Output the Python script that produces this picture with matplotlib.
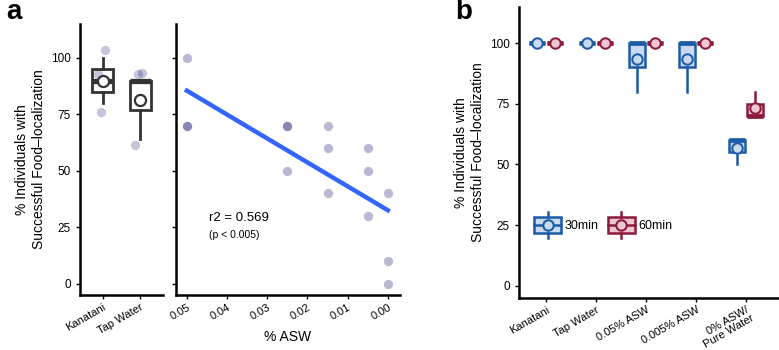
import numpy as np
import matplotlib
matplotlib.use('Agg')
import matplotlib.pyplot as plt
from matplotlib.patches import Rectangle, Patch
from matplotlib.lines import Line2D
from matplotlib.legend_handler import HandlerBase

plt.rcParams['font.family'] = ['Liberation Sans', 'DejaVu Sans']

# ---- panel a, left: replicate values per condition
a_groups = ['Kanatani', 'Tap Water']
a_box_data = [[80, 90, 100], [64, 90, 90]]
# jittered points as they appear on the chart
a_pts_dx = [[0.07, -0.13, -0.05], [-0.07, 0.05, -0.13]]
a_pts_y = [[103.3, 92.8, 75.9], [92.8, 93.3, 61.6]]

# ---- panel a, right: % ASW vs success
asw_x = [0.05, 0.05, 0.05, 0.025, 0.025, 0.025, 0.015, 0.015, 0.015,
         0.005, 0.005, 0.005, 0.0, 0.0, 0.0]
asw_y = [100, 70, 70, 70, 70, 50, 70, 60, 40, 60, 50, 30, 40, 10, 0]
asw_ticks = [0.05, 0.04, 0.03, 0.02, 0.01, 0.00]

# ---- panel b: replicate values per condition and time
b_groups = ['Kanatani', 'Tap Water', '0.05% ASW', '0.005% ASW', '0% ASW/\nPure Water']
b_30min = [[100, 100, 100], [100, 100, 100], [80, 100, 100], [80, 100, 100], [50, 60, 60]]
b_60min = [[100, 100, 100], [100, 100, 100], [100, 100, 100], [100, 100, 100], [70, 70, 80]]

blue = '#1c5ba6'
blue_fill = '#c9daef'
red = '#8b1a3c'
red_fill = '#ecc6d0'
ylab = '% Individuals with\nSuccessful Food\u2013localization'
yticks = [0, 25, 50, 75, 100]

fig = plt.figure(figsize=(7.79, 3.5), dpi=100)


def style_axes(ax):
    for s in ['top', 'right']:
        ax.spines[s].set_visible(False)
    for s in ['left', 'bottom']:
        ax.spines[s].set_linewidth(1.8)
    ax.tick_params(width=1.0, length=3, labelsize=8.5, colors='black')
    ax.tick_params(axis='x', labelsize=8, pad=2)


def draw_box(ax, data, pos, width, edge, fill, lw, mean_ms, mean_fill):
    ax.boxplot([data], positions=[pos], widths=width, patch_artist=True,
               showcaps=False, showfliers=False,
               boxprops=dict(facecolor=fill, edgecolor=edge, linewidth=lw),
               whiskerprops=dict(color=edge, linewidth=lw),
               medianprops=dict(color=edge, linewidth=lw * 1.9, solid_capstyle='butt'),
               manage_ticks=False, zorder=3)
    ax.plot([pos], [np.mean(data)], 'o', ms=mean_ms, mfc=mean_fill, mec=edge,
            mew=lw * 0.8, zorder=5)


# ---------- panel a left
ax1 = fig.add_axes([0.1027, 0.157, 0.1065, 0.7743])
style_axes(ax1)
for i, g in enumerate(a_groups):
    xs = [i + 1 + d for d in a_pts_dx[i]]
    ax1.scatter(xs, a_pts_y[i], s=45, color='#191970', alpha=0.25, lw=0, zorder=2)
    draw_box(ax1, a_box_data[i], i + 1, 0.55, '#333333', 'none', 2.0, 8, 'white')
ax1.set_xlim(0.4, 2.6)
ax1.set_ylim(-5, 115)
ax1.set_yticks(yticks)
ax1.set_xticks([1, 2])
ax1.set_xticklabels(a_groups, rotation=30, ha='right', rotation_mode='anchor')
ax1.set_ylabel(ylab, fontsize=10, labelpad=4)

# ---------- panel a right
ax2 = fig.add_axes([0.2259, 0.157, 0.2875, 0.7743])
style_axes(ax2)
ax2.scatter(asw_x, asw_y, s=45, color='#191970', alpha=0.3, lw=0, zorder=2)
slope, icpt = np.polyfit(asw_x, asw_y, 1)
r2 = np.corrcoef(asw_x, asw_y)[0, 1] ** 2
xl = np.array([max(asw_x), min(asw_x)])
ax2.plot(xl, slope * xl + icpt, color='#3366ff', lw=3.2, zorder=3)
ax2.set_xlim(0.0527, -0.003)
ax2.set_ylim(-5, 115)
ax2.set_yticks(yticks)
ax2.set_yticklabels([])
ax2.set_xticks(asw_ticks)
ax2.set_xticklabels(['%.2f' % t for t in asw_ticks], rotation=30, ha='right',
                    rotation_mode='anchor')
ax2.set_xlabel('% ASW', fontsize=10, labelpad=6)
ax2.text(0.0445, 29, 'r2 = %.3f' % r2, fontsize=9.5, ha='left', va='center')
ax2.text(0.0445, 21.5, '(p < 0.005)', fontsize=7.5, ha='left', va='center')

# ---------- panel b
ax3 = fig.add_axes([0.6662, 0.1486, 0.3338, 0.8324])
style_axes(ax3)
off = 0.18
for i in range(len(b_groups)):
    draw_box(ax3, b_30min[i], i + 1 - off, 0.33, blue, blue_fill, 1.8, 7.5, blue_fill)
    draw_box(ax3, b_60min[i], i + 1 + off, 0.33, red, red_fill, 1.8, 7.5, red_fill)
ax3.set_xlim(0.46, 5.66)
ax3.set_ylim(-5, 115)
ax3.set_yticks(yticks)
ax3.set_xticks(range(1, len(b_groups) + 1))
ax3.set_xticklabels(b_groups, rotation=30, ha='right', rotation_mode='anchor',
                    multialignment='right', linespacing=0.95)
ax3.set_ylabel(ylab, fontsize=10, labelpad=4)


class BoxKey(HandlerBase):
    def create_artists(self, legend, orig, xd, yd, w, h, fs, trans):
        edge = orig.get_edgecolor()
        fill = orig.get_facecolor()
        cy = yd + h / 2
        bh = h * 1.8
        rect = Rectangle((xd, cy - bh / 2), w, bh, facecolor=fill, edgecolor=edge,
                         lw=1.8, transform=trans)
        med = Line2D([xd, xd + w], [cy, cy], color=edge, lw=1.8, transform=trans)
        wt = Line2D([xd + w / 2] * 2, [cy + bh / 2, cy + bh / 2 + h * 0.6], color=edge,
                    lw=1.8, transform=trans)
        wb = Line2D([xd + w / 2] * 2, [cy - bh / 2, cy - bh / 2 - h * 0.6], color=edge,
                    lw=1.8, transform=trans)
        dot = Line2D([xd + w / 2], [cy], marker='o', ms=7.5, mfc=fill, mec=edge, mew=1.5,
                     transform=trans)
        return [rect, med, wt, wb, dot]


handles = [Patch(facecolor=blue_fill, edgecolor=blue),
           Patch(facecolor=red_fill, edgecolor=red)]
ax3.legend(handles, ['30min', '60min'], handler_map={Patch: BoxKey()},
           loc='center left', bbox_to_anchor=(0.04, 0.247), ncol=2, frameon=False,
           fontsize=9, handlelength=2.15, handletextpad=0.3, columnspacing=0.7,
           borderaxespad=0)

fig.text(0.008, 0.965, 'a', fontsize=20, fontweight='bold', va='center')
fig.text(0.585, 0.965, 'b', fontsize=20, fontweight='bold', va='center')

plt.savefig('out.png', dpi=100)
